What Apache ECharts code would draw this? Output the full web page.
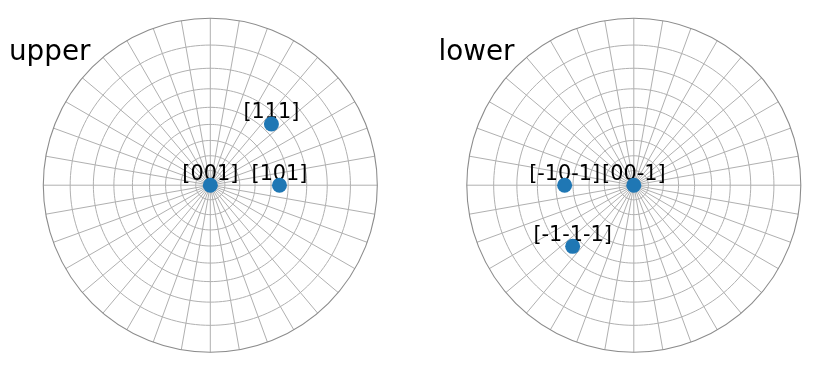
<!DOCTYPE html>
<html>
<head>
<meta charset="utf-8">
<script src="https://cdn.jsdelivr.net/npm/echarts@6/dist/echarts.min.js"></script>
<style>html,body{margin:0;padding:0;background:#fff}#c{width:819px;height:372px}</style>
</head>
<body>
<div id="c"></div>
<script>
// Polar-angle grid circles (degrees from the pole) and azimuth step
const polarGridDeg = [10, 20, 30, 40, 50, 60, 70, 80];
const azimuthStepDeg = 10;
const panelTitles = ['upper', 'lower'];

// Upper hemisphere vectors
const upperLabels = ['[001]', '[101]', '[111]'];
const upperPolarDeg = [0, 45, 54.74];
const upperAzimuthDeg = [0, 0, 45];

// Lower hemisphere vectors (polar angle measured from -z)
const lowerLabels = ['[00-1]', '[-10-1]', '[-1-1-1]'];
const lowerPolarDeg = [0, 45, 54.74];
const lowerAzimuthDeg = [0, 180, 225];

const FONT = 'DejaVu Sans';
const stereo = d => Math.tan(d * Math.PI / 360); // r = tan(theta/2)

const panels = [
  {center: [210.3, 185.2], radius: 167, labels: upperLabels, pol: upperPolarDeg, az: upperAzimuthDeg, title: panelTitles[0], tx: 9},
  {center: [633.8, 185.2], radius: 167, labels: lowerLabels, pol: lowerPolarDeg, az: lowerAzimuthDeg, title: panelTitles[1], tx: 438.5}
];

const polar = [], angleAxis = [], radiusAxis = [], series = [], title = [];
panels.forEach((p, i) => {
  polar.push({center: p.center, radius: p.radius});
  angleAxis.push({
    polarIndex: i, type: 'value', min: 0, max: 360, interval: azimuthStepDeg,
    startAngle: 0, clockwise: false,
    axisLine: {show: true, lineStyle: {color: '#8c8c8c', width: 1.1}},
    axisTick: {show: false}, axisLabel: {show: false},
    splitLine: {show: true, lineStyle: {color: '#b0b0b0', width: 1}}
  });
  radiusAxis.push({
    polarIndex: i, type: 'value', min: 0, max: 1,
    axisLine: {show: false}, axisTick: {show: false}, axisLabel: {show: false},
    splitLine: {show: false}
  });
  polarGridDeg.forEach(d => {
    const r = stereo(d);
    const pts = [];
    for (let a = 0; a <= 360; a += 2) pts.push([r, a]);
    series.push({
      type: 'line', coordinateSystem: 'polar', polarIndex: i, data: pts,
      symbol: 'none', silent: true, z: 1, animation: false,
      lineStyle: {color: '#b0b0b0', width: 1}
    });
  });
  const pts = p.labels.map((l, k) => ({name: l, value: [stereo(p.pol[k]), p.az[k]]}));
  // labels (drawn beneath the markers)
  series.push({
    type: 'scatter', coordinateSystem: 'polar', polarIndex: i, z: 4,
    symbolSize: 15, itemStyle: {color: 'rgba(0,0,0,0)'}, animation: false, silent: true,
    data: pts,
    label: {show: true, position: 'top', distance: -7, formatter: '{b}',
      color: '#000', opacity: 1, fontFamily: FONT, fontSize: 20.8}
  });
  // markers
  series.push({
    type: 'scatter', coordinateSystem: 'polar', polarIndex: i, z: 5,
    symbolSize: 15, itemStyle: {color: '#1f77b4', opacity: 1}, animation: false,
    data: pts
  });
  title.push({text: p.title, left: p.tx, top: 39, padding: 0,
    textStyle: {fontFamily: FONT, fontSize: 27.8, fontWeight: 'normal', color: '#000'}});
});

const chart = echarts.init(document.getElementById('c'), null, {renderer: 'canvas'});
chart.setOption({backgroundColor: '#fff', animation: false, title, polar, angleAxis, radiusAxis, series});
</script>
</body>
</html>
